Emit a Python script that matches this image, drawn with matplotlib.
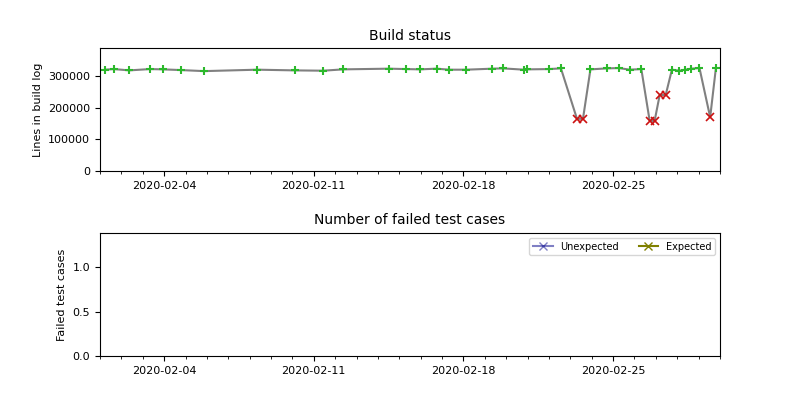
import matplotlib
matplotlib.use("Agg")
import matplotlib.pyplot as plt
import matplotlib.dates as mdates
import pandas as pd

# Build log data
build_times = [
    "2020-02-01 05:30", "2020-02-01 15:36", "2020-02-02 08:53", "2020-02-03 07:55",
    "2020-02-03 22:48", "2020-02-04 19:26", "2020-02-05 20:53", "2020-02-08 08:38",
    "2020-02-10 02:24", "2020-02-11 10:34", "2020-02-12 08:53", "2020-02-14 12:29",
    "2020-02-15 07:55", "2020-02-15 23:17", "2020-02-16 17:46", "2020-02-17 07:55",
    "2020-02-18 03:22", "2020-02-19 08:24", "2020-02-19 20:24", "2020-02-20 19:55",
    "2020-02-20 23:46", "2020-02-22 00:00", "2020-02-22 13:26", "2020-02-23 07:26",
    "2020-02-23 14:10", "2020-02-23 22:34", "2020-02-24 17:17", "2020-02-25 06:29",
    "2020-02-25 18:43", "2020-02-26 07:41", "2020-02-26 17:02", "2020-02-26 22:34",
    "2020-02-27 04:19", "2020-02-27 11:02", "2020-02-27 18:00", "2020-02-28 02:24",
    "2020-02-28 09:07", "2020-02-28 15:50", "2020-02-29 00:58", "2020-02-29 12:58",
    "2020-02-29 19:26",
]
log_lines = [
    319700, 321600, 317500, 321600, 320700, 318400, 315200, 319700,
    317500, 316500, 320700, 322900, 321600, 320700, 322900, 319700,
    319700, 322900, 323800, 319700, 320700, 321600, 323800, 165000,
    165000, 320700, 323800, 324800, 319700, 321600, 159000, 158000,
    240000, 240000, 319700, 316500, 319700, 322900, 324800, 170000,
    326000,
]
build_ok = [
    True, True, True, True, True, True, True, True,
    True, True, True, True, True, True, True, True,
    True, True, True, True, True, True, True, False,
    False, True, True, True, True, True, False, False,
    False, False, True, True, True, True, True, False,
    True,
]

# Failed test cases (empty)
unexpected_times = []
unexpected_counts = []
expected_times = []
expected_counts = []

plt.rcParams["font.size"] = 8

times = pd.to_datetime(build_times)
ok_t = [t for t, ok in zip(times, build_ok) if ok]
ok_v = [v for v, ok in zip(log_lines, build_ok) if ok]
bad_t = [t for t, ok in zip(times, build_ok) if not ok]
bad_v = [v for v, ok in zip(log_lines, build_ok) if not ok]

fig, (ax1, ax2) = plt.subplots(2, 1, figsize=(8, 4), dpi=100)
fig.subplots_adjust(hspace=0.5)

ax1.plot(times, log_lines, color="gray", lw=1.5, zorder=1)
ax1.plot(ok_t, ok_v, ls="none", marker="+", color="#2cb82c", ms=6, mew=1.5, zorder=2)
ax1.plot(bad_t, bad_v, ls="none", marker="x", color="#cc1111", ms=5.5, mew=1.2, zorder=2)
ax1.set_title("Build status", fontsize=10)
ax1.set_ylabel("Lines in build log")
ax1.set_ylim(0, 388000)

ax2.plot(pd.to_datetime(unexpected_times), unexpected_counts, marker="x",
         color="darkblue", alpha=0.5, label="Unexpected")
ax2.plot(pd.to_datetime(expected_times), expected_counts, marker="x",
         color="olive", label="Expected")
ax2.set_title("Number of failed test cases", fontsize=10)
ax2.set_ylabel("Failed test cases")
ax2.set_ylim(0, 1.39)
ax2.set_yticks([0.0, 0.5, 1.0])
ax2.legend(loc="upper right", ncol=2, fontsize=7)

xmin = pd.Timestamp("2020-02-01")
xmax = pd.Timestamp("2020-03-01")
for ax in (ax1, ax2):
    ax.set_xlim(xmin, xmax)
    ax.xaxis.set_major_locator(mdates.WeekdayLocator(byweekday=mdates.TU))
    ax.xaxis.set_minor_locator(mdates.DayLocator())
    ax.xaxis.set_major_formatter(mdates.DateFormatter("%Y-%m-%d"))

fig.savefig("out.png", dpi=100)
